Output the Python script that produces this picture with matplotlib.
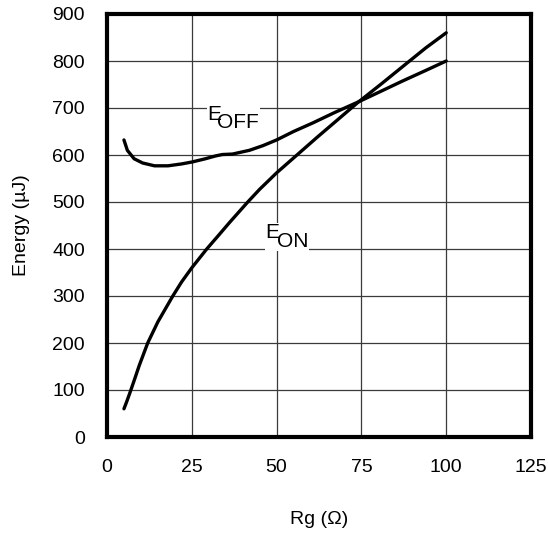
import matplotlib
matplotlib.use("Agg")
from matplotlib import pyplot as plt
from matplotlib.patches import Rectangle
from matplotlib.transforms import Bbox

# switching energy vs gate resistance
rg_off = [5, 6, 8, 10.5, 14, 18, 22, 25, 29, 32, 34, 37, 42, 46, 50, 55, 60.6, 67, 73.8, 80, 87, 94, 100]
e_off = [632, 610, 592, 583, 577, 577, 581, 585, 592, 598, 601, 602, 610, 620, 632, 650, 668, 690, 712, 733, 757, 780, 800]

rg_on = [5, 5.8, 6.8, 8, 9.5, 12, 15, 19.4, 22, 25, 29.4, 33, 36.2, 41.5, 45, 50, 56, 62, 68, 74, 81, 88, 94, 100]
e_on = [60, 75, 95, 120, 152, 200, 245, 300, 330, 360, 400, 430, 457, 500, 527, 562, 600, 638, 675, 712, 752, 793, 828, 860]

x_ticks = [0, 25, 50, 75, 100, 125]
y_ticks = [0, 100, 200, 300, 400, 500, 600, 700, 800, 900]

plt.rcParams['font.family'] = ['Liberation Sans', 'DejaVu Sans']

fig = plt.figure(figsize=(5.48, 5.33), dpi=100)
ax = fig.add_axes([107 / 548, 96 / 533, 424 / 548, 423 / 533])

ax.plot(rg_off, e_off, color='black', lw=2.4, solid_capstyle='round', zorder=5)
ax.plot(rg_on, e_on, color='black', lw=2.4, solid_capstyle='round', zorder=5)

ax.set_xlim(0, 125)
ax.set_ylim(0, 900)
ax.set_xticks(x_ticks)
ax.set_yticks(y_ticks)
ax.tick_params(length=0, labelsize=14, pad=16)
ax.grid(True, color='#3a3a3a', lw=0.9)
ax.set_axisbelow(True)
for s in ax.spines.values():
    s.set_linewidth(3)

ax.set_xlabel("Rg (\u03a9)", fontsize=14, labelpad=25)
ax.set_ylabel("Energy (\u00b5J)", fontsize=14, labelpad=16)

# curve labels: big E with a same-size, dropped subscript
labels = [
    (ax.text(29.7, 674, "E", fontsize=15, va='baseline', zorder=4),
     ax.text(32.4, 657, "OFF", fontsize=15, va='baseline', zorder=4)),
    (ax.text(46.8, 423, "E", fontsize=15, va='baseline', zorder=4),
     ax.text(50.0, 404, "ON", fontsize=15, va='baseline', zorder=4)),
]

# white patch behind each label so the grid breaks around it
fig.canvas.draw()
inv = ax.transData.inverted()
for pair in labels:
    bb = Bbox.union([t.get_window_extent() for t in pair]).expanded(1.04, 1.0)
    (x0, y0), (x1, y1) = inv.transform([[bb.x0, bb.y0], [bb.x1, bb.y1]])
    ax.add_patch(Rectangle((x0, y0), x1 - x0, y1 - y0, facecolor='white',
                           edgecolor='none', zorder=3))

fig.savefig("out.png", dpi=100)
